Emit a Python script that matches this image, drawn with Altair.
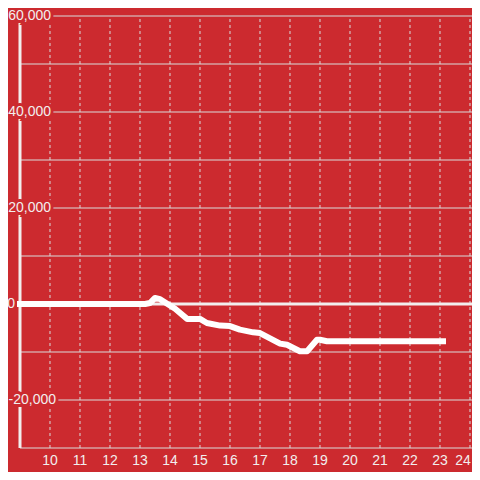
import altair as alt
import pandas as pd

# data
hours = [9.0, 13.17, 13.33, 13.5, 13.67, 14.17, 14.57, 15.0, 15.23, 15.67, 16.0,
         16.33, 16.77, 17.0, 17.67, 17.9, 18.33, 18.57, 18.9, 19.0, 19.23, 23.1]
values = [0, 0, 200, 1250, 1000, -1000, -3100, -3100, -3950, -4500, -4600,
          -5350, -5900, -6050, -8250, -8500, -9850, -9850, -7450, -7450, -7750, -7750]
y_grid = [-30000, -20000, -10000, 0, 10000, 20000, 30000, 40000, 50000, 60000]
y_label_vals = [60000, 40000, 20000]
y_label_txt = ["60,000", "40,000", "20,000"]
y_neg_vals = [-20000]
y_neg_txt = ["-20,000"]
x_ticks = list(range(10, 24))
x_last = [24]

X_MIN, X_MAX = 9, 24.0667
Y_MIN, Y_MAX = -30000, 60000

BG = "#cc2a2f"
GRID = "#d9dcdc"
LIGHT = "#f2eeee"
FONT = "Liberation Sans"

line_df = pd.DataFrame({"h": hours, "v": values})
hgrid_df = pd.DataFrame({"v": y_grid})
vgrid_df = pd.DataFrame({"h": x_ticks + x_last, "lo": Y_MIN, "hi": Y_MAX})
xlab_df = pd.DataFrame({"h": x_ticks, "t": [str(v) for v in x_ticks]})
xlast_df = pd.DataFrame({"h": x_last, "t": [str(v) for v in x_last]})
labels_df = pd.DataFrame({"v": y_label_vals, "t": y_label_txt})
neg_df = pd.DataFrame({"v": y_neg_vals, "t": y_neg_txt})
zero_df = pd.DataFrame({"v": [0], "t": ["0"]})

xs = alt.Scale(domain=[X_MIN, X_MAX], nice=False, zero=False)
ys = alt.Scale(domain=[Y_MIN, Y_MAX], nice=False, zero=False)


def X(f):
    return alt.X(f, scale=xs, axis=None)


def Y(f):
    return alt.Y(f, scale=ys, axis=None)


hgrid = alt.Chart(hgrid_df).mark_rule(color=GRID, strokeWidth=1).encode(
    y=Y("v:Q"), x=alt.value(0), x2=alt.value(452)
)
vgrid = alt.Chart(vgrid_df).mark_rule(color=GRID, strokeWidth=1, strokeDash=[3, 3]).encode(
    x=X("h:Q"), y=Y("lo:Q"), y2="hi:Q"
)
axis_rule = alt.Chart(pd.DataFrame({"h": [X_MIN], "lo": [Y_MIN], "hi": [Y_MAX]})).mark_rule(
    color=LIGHT, strokeWidth=3
).encode(x=X("h:Q"), y=Y("lo:Q"), y2="hi:Q")


def ylabels(df, xpos):
    m = alt.Chart(df).mark_text(
        align="right", baseline="middle", fontSize=14, font=FONT,
        fill=BG, stroke=BG, strokeWidth=6
    ).encode(x=alt.value(xpos), y=Y("v:Q"), text="t:N")
    t = alt.Chart(df).mark_text(
        align="right", baseline="middle", fontSize=14, font=FONT, color=LIGHT
    ).encode(x=alt.value(xpos), y=Y("v:Q"), text="t:N")
    return [m, t]


xlab = alt.Chart(xlab_df).mark_text(
    align="center", baseline="middle", fontSize=14, font=FONT, color=LIGHT
).encode(x=X("h:Q"), y=alt.value(445), text="t:N")
xlast = alt.Chart(xlast_df).mark_text(
    align="center", baseline="middle", fontSize=14, font=FONT, color=LIGHT, dx=-7
).encode(x=X("h:Q"), y=alt.value(445), text="t:N")

zero_rule = alt.Chart(zero_df).mark_rule(color=LIGHT, strokeWidth=3).encode(
    y=Y("v:Q"), x=alt.value(0), x2=alt.value(452)
)

data_line = alt.Chart(line_df).mark_line(
    color="#ffffff", strokeWidth=6, strokeCap="square", strokeJoin="round"
).encode(x=X("h:Q"), y=Y("v:Q"))

layers = [hgrid, vgrid, axis_rule]
layers += ylabels(labels_df, 31)
layers += ylabels(neg_df, 36)
layers += ylabels(zero_df, -5)
layers += [xlab, xlast, zero_rule, data_line]

chart = alt.layer(*layers).properties(
    width=452, height=432,
    background=BG,
    padding={"left": 12, "top": 8, "right": 0, "bottom": 24},
    autosize=alt.AutoSizeParams(type="none"),
    usermeta={"embedOptions": {"defaultStyle": "html, body { background: " + BG + "; }"}},
).configure_view(stroke=None)

chart.save("out.html", embed_options={"renderer": "svg", "actions": False})
